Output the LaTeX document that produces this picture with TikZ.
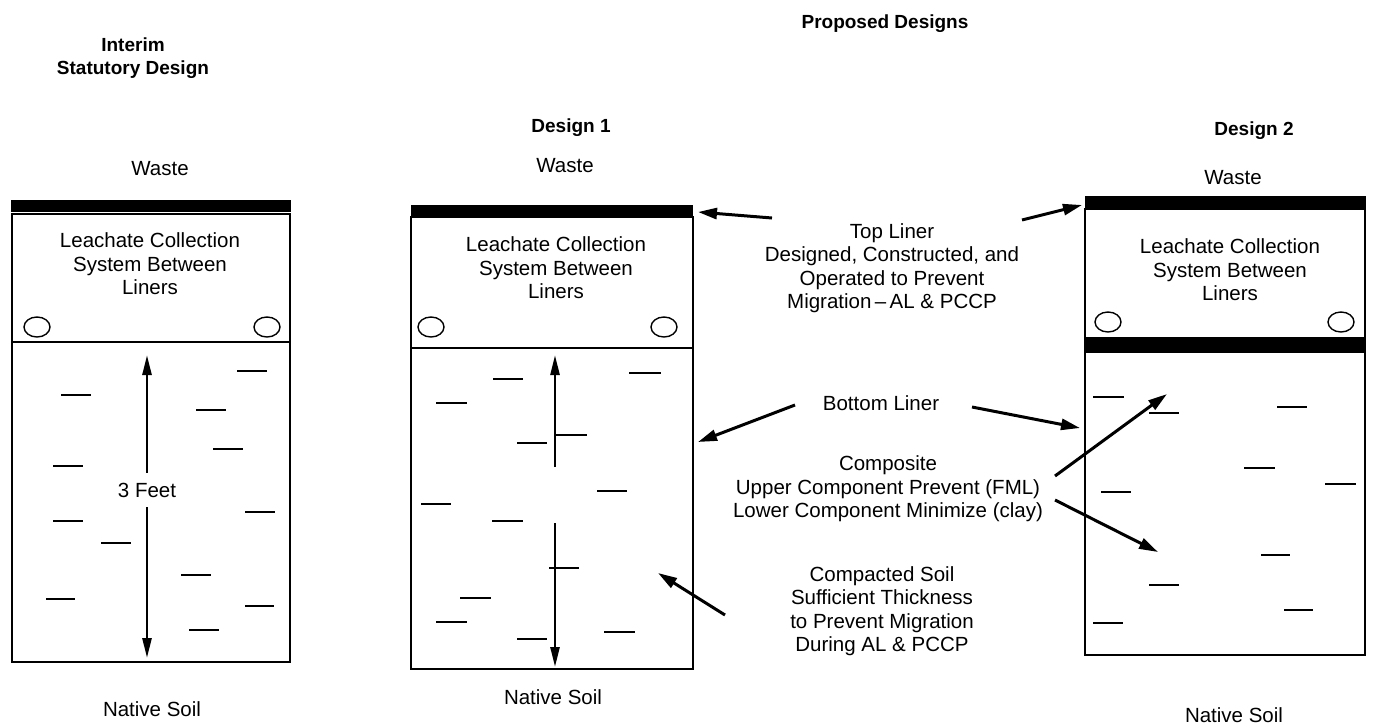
\documentclass[tikz,border=0pt]{standalone}
\usepackage{fontspec}
\setmainfont{Liberation Sans}
\usetikzlibrary{arrows.meta}
\begin{document}
\begin{tikzpicture}[x=1pt,y=-1pt,
  lbl/.style={font=\fontsize{20.5}{23.5}\selectfont, align=center, inner sep=0pt},
  hd/.style={font=\bfseries\fontsize{19}{23}\selectfont, align=center, inner sep=0pt},
  outline/.style={line width=1.7pt},
  linerbar/.style={fill=black},
  soilmark/.style={line width=2.3pt},
  pipe/.style={line width=1.4pt},
  dimarrow/.style={line width=2.5pt, -{Triangle[length=20pt,width=9pt]}},
  ptr/.style={line width=3pt, -{Triangle[length=19pt,width=11pt]}}
]
\useasboundingbox[fill=white] (0,0) rectangle (1374,724);

% ---------- headings ----------
\node[hd] (interim) at (133,58) {Interim\\Statutory Design};
\node[hd, anchor=base] (proposed) at (885,28) {Proposed Designs};
\node[hd, anchor=base] (d1) at (571,132) {Design 1};
\node[hd, anchor=base] (d2) at (1254,135) {Design 2};

% ---------- left box (interim) ----------
\node[lbl, anchor=base] (wasteL) at (160,175) {Waste};
\fill[linerbar] (11,200) rectangle (291,212);
\draw[outline] (12,214) rectangle (290,662);
\draw[outline] (12,342) -- (290,342);
\node[lbl] (lcsL) at (150,264) {Leachate Collection\\System Between\\Liners};
\draw[pipe] (37,327) ellipse (13pt and 10pt);
\draw[pipe] (267,327) ellipse (13pt and 10pt);
\node[lbl] (feet) at (147,490) {3 Feet};
\coordinate (fL1) at (147,355);
\coordinate (fL2) at (147,658);
\draw[dimarrow] (feet.north) ++(0,-10) -- (fL1);
\draw[dimarrow] (feet.south) ++(0,10) -- (fL2);
\foreach \xa/\xb/\yy in {61/91/395, 237/267/371, 196/226/410, 213/243/449, 53/83/466,
  245/275/512, 53/83/521, 101/131/543, 181/211/575, 46/75/599, 245/274/606, 189/219/630}
  \draw[soilmark] (\xa,\yy) -- (\xb,\yy);
\node[lbl, anchor=base] (soilL) at (152,716) {Native Soil};

% ---------- middle box (design 1) ----------
\node[lbl, anchor=base] (wasteM) at (565,172) {Waste};
\fill[linerbar] (411,205) rectangle (693,217);
\draw[outline] (411,217) rectangle (693,669);
\draw[outline] (411,348) -- (693,348);
\node[lbl] (lcsM) at (556,268) {Leachate Collection\\System Between\\Liners};
\draw[pipe] (431,327) ellipse (13pt and 10pt);
\draw[pipe] (664,327) ellipse (13pt and 10pt);
\coordinate (mA) at (555,467);
\coordinate (mB) at (555,355);
\coordinate (mC) at (555,523);
\coordinate (mD) at (555,667);
\draw[dimarrow] (mA) -- (mB);
\draw[dimarrow] (mC) -- (mD);
\foreach \xa/\xb/\yy in {493/523/379, 629/661/373, 436/467/403, 555/587/435, 517/547/443,
  597/627/491, 421/451/504, 492/523/521, 549/579/568, 460/491/598, 436/467/622,
  604/635/632, 517/547/639}
  \draw[soilmark] (\xa,\yy) -- (\xb,\yy);
\node[lbl, anchor=base] (soilM) at (553,704) {Native Soil};

% ---------- right box (design 2) ----------
\node[lbl, anchor=base] (wasteR) at (1233,184) {Waste};
\fill[linerbar] (1085,196) rectangle (1366,208);
\draw[outline] (1085,209) rectangle (1365,655);
\fill[linerbar] (1085,337) rectangle (1366,353);
\node[lbl] (lcsR) at (1230,270) {Leachate Collection\\System Between\\Liners};
\draw[pipe] (1108,322) ellipse (13pt and 10pt);
\draw[pipe] (1341,322) ellipse (13pt and 10pt);
\foreach \xa/\xb/\yy in {1093/1124/397, 1149/1179/413, 1277/1307/407, 1244/1275/468,
  1325/1356/484, 1101/1131/492, 1261/1290/555, 1149/1179/585, 1284/1313/610, 1093/1123/623}
  \draw[soilmark] (\xa,\yy) -- (\xb,\yy);
\node[lbl, anchor=base] (soilR) at (1234,722) {Native Soil};

% ---------- middle labels ----------
\node[lbl] (toplbl) at (892,268) {Top Liner\\Designed, Constructed, and\\Operated to Prevent\\Migration\,--\,AL \& PCCP};
\node[lbl, anchor=base] (botlbl) at (881,410) {Bottom Liner};
\node[lbl] (complbl) at (888,489) {Composite\\Upper Component Prevent (FML)\\Lower Component Minimize (clay)};
\node[lbl] (soillbl) at (882,611) {Compacted Soil\\Sufficient Thickness\\to Prevent Migration\\During AL \& PCCP};

% ---------- pointers ----------
\coordinate (tlA) at (772,218);  \coordinate (tlT1) at (698,212);
\coordinate (tlB) at (1022,220); \coordinate (tlT2) at (1082,205);
\coordinate (blA) at (795,405);  \coordinate (blT1) at (698,442);
\coordinate (blB) at (972,407);  \coordinate (blT2) at (1080,428);
\coordinate (cpA) at (1055,476); \coordinate (cpT1) at (1167,394);
\coordinate (cpB) at (1055,500); \coordinate (cpT2) at (1158,552);
\coordinate (csA) at (725,615);  \coordinate (csT) at (658,573);
\draw[ptr] (tlA) -- (tlT1);
\draw[ptr] (tlB) -- (tlT2);
\draw[ptr] (blA) -- (blT1);
\draw[ptr] (blB) -- (blT2);
\draw[ptr] (cpA) -- (cpT1);
\draw[ptr] (cpB) -- (cpT2);
\draw[ptr] (csA) -- (csT);
\end{tikzpicture}
\end{document}
